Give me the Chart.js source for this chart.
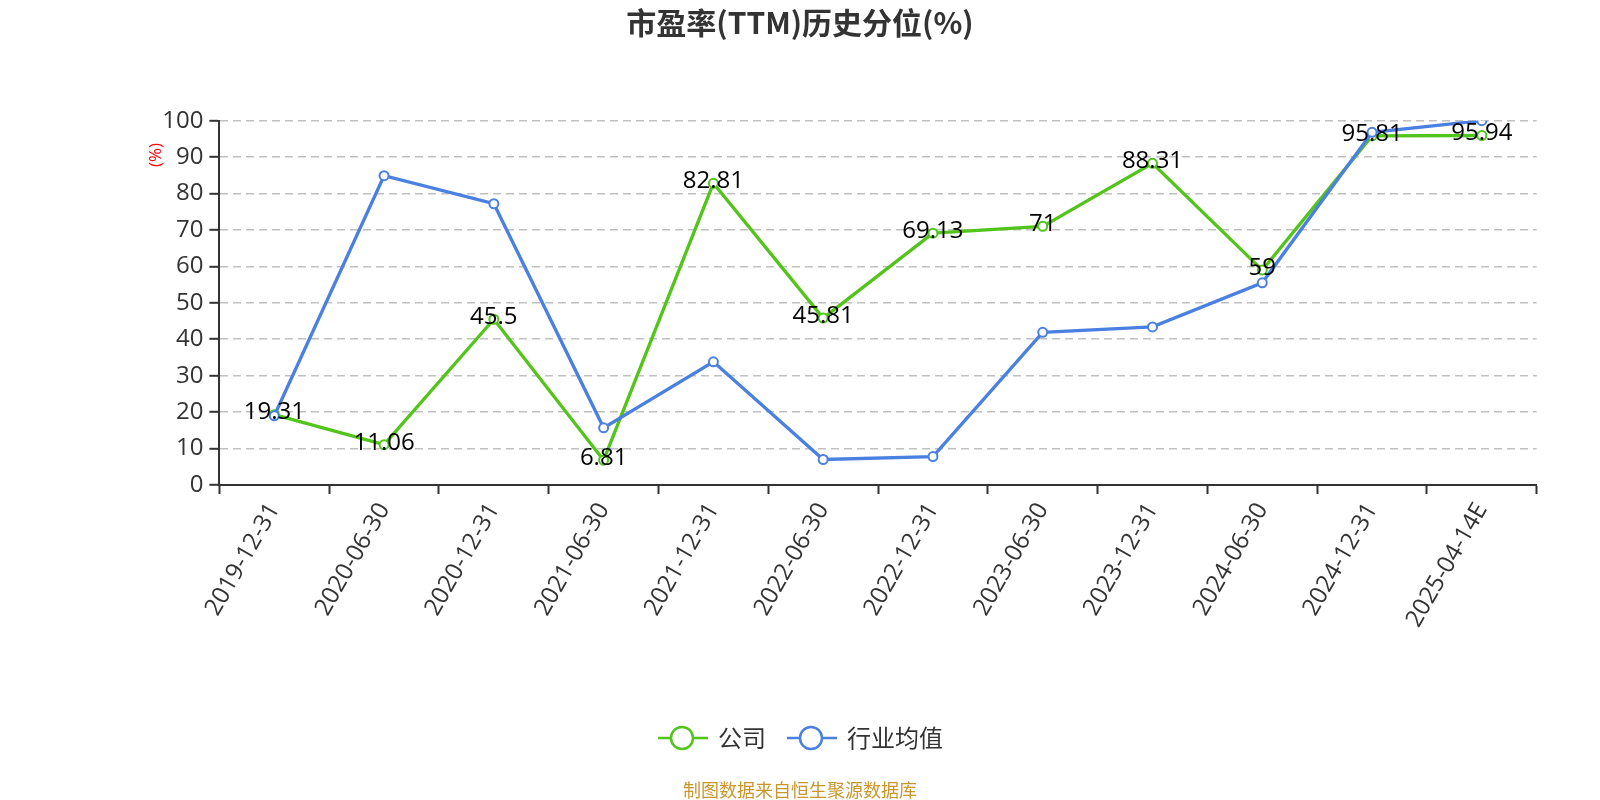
<!DOCTYPE html>
<html>
<head>
<meta charset="utf-8">
<script src="https://cdn.jsdelivr.net/npm/chart.js@4/dist/chart.umd.min.js"></script>
<style>
html,body{margin:0;padding:0;background:#fff;}
#c{display:block;}
</style>
</head>
<body>
<canvas id="c" width="1600" height="800" style="width:1600px;height:800px"></canvas>
<script>
const categories = ['2019-12-31','2020-06-30','2020-12-31','2021-06-30','2021-12-31','2022-06-30','2022-12-31','2023-06-30','2023-12-31','2024-06-30','2024-12-31','2025-04-14E'];
const companyValues = [19.31, 11.06, 45.5, 6.81, 82.81, 45.81, 69.13, 71, 88.31, 59, 95.81, 95.94];
const industryValues = [19.0, 84.9, 77.2, 15.7, 33.8, 7.0, 7.8, 41.9, 43.4, 55.5, 96.8, 100];
const yTicks = [0,10,20,30,40,50,60,70,80,90,100];
const seriesNames = ['公司','行业均值'];
const titleText = '市盈率(TTM)历史分位(%)';
const footerText = '制图数据来自恒生聚源数据库';

const GREEN = '#52c41a';
const BLUE = '#4a80e2';
const FONT = "'Open Sans','Noto Sans CJK SC',sans-serif";
const CJK = "'Noto Sans CJK SC','Open Sans',sans-serif";

const overlay = {
  id: 'overlay',
  afterDatasetsDraw(chart) {
    const ctx = chart.ctx;
    const meta = chart.getDatasetMeta(0);
    ctx.save();
    ctx.font = '24px ' + FONT;
    ctx.fillStyle = '#000';
    ctx.textAlign = 'center';
    ctx.textBaseline = 'middle';
    meta.data.forEach((pt, i) => {
      ctx.fillText(String(companyValues[i]), pt.x, pt.y - 2);
    });
    ctx.restore();
  },
  afterDraw(chart) {
    const ctx = chart.ctx;
    ctx.save();
    // title
    ctx.font = 'bold 30px ' + CJK;
    ctx.fillStyle = '#333';
    ctx.textAlign = 'center';
    ctx.textBaseline = 'middle';
    ctx.fillText(titleText, 800, 23);
    // y axis unit
    ctx.save();
    ctx.translate(156.5, 155);
    ctx.rotate(-Math.PI / 2);
    ctx.font = '17px ' + FONT;
    ctx.fillStyle = '#ff0000';
    ctx.textAlign = 'center';
    ctx.textBaseline = 'middle';
    ctx.fillText('(%)', 0, 0);
    ctx.restore();
    // legend
    const items = [
      {name: seriesNames[0], color: GREEN, x0: 658},
      {name: seriesNames[1], color: BLUE, x0: 787}
    ];
    const ly = 738;
    items.forEach(it => {
      ctx.strokeStyle = it.color;
      ctx.lineWidth = 2.5;
      ctx.beginPath();
      ctx.moveTo(it.x0, ly);
      ctx.lineTo(it.x0 + 50, ly);
      ctx.stroke();
      ctx.beginPath();
      ctx.arc(it.x0 + 24, ly, 11, 0, Math.PI * 2);
      ctx.fillStyle = '#fff';
      ctx.fill();
      ctx.lineWidth = 2.5;
      ctx.stroke();
      ctx.font = '24px ' + CJK;
      ctx.fillStyle = '#333';
      ctx.textAlign = 'left';
      ctx.textBaseline = 'middle';
      ctx.fillText(it.name, it.x0 + 60, ly);
    });
    // footer
    ctx.font = '18px ' + CJK;
    ctx.fillStyle = '#c9962b';
    ctx.textAlign = 'center';
    ctx.textBaseline = 'middle';
    ctx.fillText(footerText, 800, 790);
    ctx.restore();
  }
};

new Chart(document.getElementById('c'), {
  type: 'line',
  data: {
    labels: categories,
    datasets: [
      {
        label: seriesNames[0], data: companyValues,
        borderColor: GREEN, backgroundColor: '#fff', borderWidth: 3.3,
        pointRadius: 4.5, pointBorderWidth: 2, pointBackgroundColor: '#fff', pointBorderColor: GREEN,
        tension: 0, order: 1
      },
      {
        label: seriesNames[1], data: industryValues,
        borderColor: BLUE, backgroundColor: '#fff', borderWidth: 3.3,
        pointRadius: 4.5, pointBorderWidth: 2, pointBackgroundColor: '#fff', pointBorderColor: BLUE,
        tension: 0, order: 0
      }
    ]
  },
  options: {
    responsive: false,
    animation: false,
    devicePixelRatio: 1,
    layout: { padding: { left: 119.4, right: 63.3, top: 120.7, bottom: 165 } },
    plugins: { legend: { display: false }, title: { display: false }, tooltip: { enabled: false } },
    scales: {
      x: {
        type: 'category',
        offset: true,
        grid: { display: true, drawOnChartArea: false, drawTicks: true, tickLength: 9, offset: true, tickColor: '#333', tickWidth: 2 },
        border: { display: true, color: '#333', width: 2 },
        ticks: { autoSkip: false, maxRotation: 60, minRotation: 60, color: '#333', font: { size: 24, family: FONT }, padding: 4 },
        afterFit(s) { s.height = 150; }
      },
      y: {
        min: 0, max: 100,
        afterBuildTicks(s) { s.ticks = yTicks.map(v => ({ value: v })); },
        grid: { color: '#c0c0c0', lineWidth: 1.6, drawTicks: true, tickLength: 10, tickColor: '#333', tickWidth: 2, tickBorderDash: [] },
        border: { display: true, color: '#333', width: 2, dash: [8, 5] },
        ticks: { color: '#333', font: { size: 24, family: FONT }, padding: 6 },
        afterFit(s) { s.width = 100; }
      }
    }
  },
  plugins: [overlay]
});
</script>
</body>
</html>
